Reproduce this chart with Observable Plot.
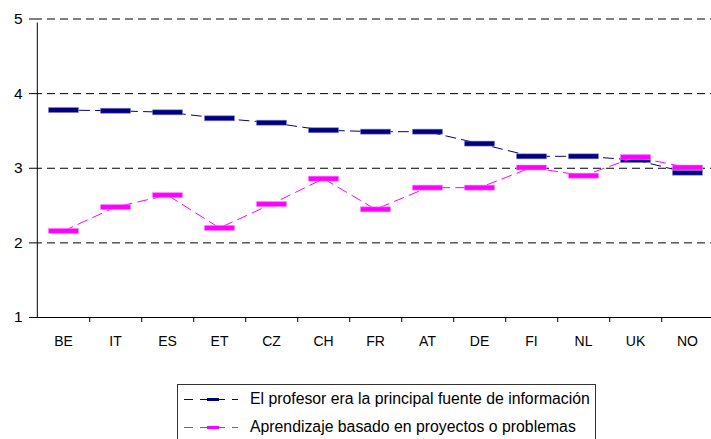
<!DOCTYPE html>
<html>
<head>
<meta charset="utf-8">
<script src="https://cdn.jsdelivr.net/npm/d3@7"></script>
<script src="https://cdn.jsdelivr.net/npm/@observablehq/plot@0.6"></script>
<style>
  html, body { margin: 0; padding: 0; background: #fff; }
  #wrap { position: relative; width: 711px; height: 439px; overflow: hidden; font-family: "Liberation Sans", Arial, sans-serif; }
  #legend { position: absolute; left: 177px; top: 384px; width: 419px; height: 70px; border: 1px solid #333; box-sizing: border-box; background: #fff; }
  .row { position: absolute; left: 0; height: 20px; display: flex; align-items: center; font-size: 15.8px; color: #000; white-space: nowrap; }
  .row svg { margin-left: 5px; margin-right: 11px; }
</style>
</head>
<body>
<div id="wrap">
  <div id="chart"></div>
  <div id="legend"></div>
</div>
<script>
const countries = ["BE", "IT", "ES", "ET", "CZ", "CH", "FR", "AT", "DE", "FI", "NL", "UK", "NO"];
const profesor = [3.78, 3.77, 3.75, 3.67, 3.61, 3.51, 3.49, 3.49, 3.33, 3.16, 3.16, 3.11, 2.94];
const proyectos = [2.16, 2.48, 2.64, 2.20, 2.52, 2.86, 2.45, 2.74, 2.74, 3.01, 2.90, 3.15, 3.01];
const seriesNames = ["El profesor era la principal fuente de información", "Aprendizaje basado en proyectos o problemas"];
const seriesColors = ["#000080", "#FF00FF"];
const yTicks = [1, 2, 3, 4, 5];
const gridTicks = [2, 3, 4, 5];

const rows = [];
countries.forEach((c, i) => {
  rows.push({country: c, value: profesor[i], series: seriesNames[0]});
});
countries.forEach((c, i) => {
  rows.push({country: c, value: proyectos[i], series: seriesNames[1]});
});

const xLeft = 34, xRight = 715;
const step = (xRight - xLeft) / countries.length;
const bar = { draw(ctx) { ctx.rect(-15, -2.5, 30, 5); } };

const chart = Plot.plot({
  width: 711,
  height: 360,
  marginLeft: xLeft,
  marginRight: 0,
  marginTop: 18,
  marginBottom: 43,
  style: { fontFamily: "'Liberation Sans', Arial, sans-serif", background: "transparent", fontSize: "14px" },
  x: { type: "point", domain: countries, range: [xLeft, xRight], padding: 0.5, label: null },
  y: { domain: [1, 5], range: [317, 18.5], label: null },
  marks: [
    Plot.ruleY(gridTicks, { stroke: "#000", strokeWidth: 1, strokeDasharray: "8,5" }),
    Plot.ruleY([1], { stroke: "#000", strokeWidth: 1 }),
    Plot.ruleX([countries[0]], { y1: 1, y2: 5, dx: -step / 2, insetBottom: -4, stroke: "#000" }),
    Plot.ruleX(countries, { y1: 1, y2: 1, dx: step / 2, insetBottom: -5, stroke: "#000" }),
    Plot.axisY(yTicks, { tickSize: 5, tickPadding: 7, fontSize: 15.5, tickFormat: d => String(d), label: null, stroke: "#000", color: "#000" }),
    Plot.axisX({ tickSize: 0, tickPadding: 19, fontSize: 14, label: null, color: "#000" }),
    Plot.lineY(rows.filter(d => d.series === seriesNames[0]), { x: "country", y: "value", stroke: seriesColors[0], strokeWidth: 1, strokeDasharray: "10,6" }),
    Plot.dot(rows.filter(d => d.series === seriesNames[0]), { x: "country", y: "value", symbol: bar, fill: seriesColors[0], stroke: "#8080c0", strokeWidth: 0.5 }),
    Plot.lineY(rows.filter(d => d.series === seriesNames[1]), { x: "country", y: "value", stroke: seriesColors[1], strokeWidth: 1, strokeDasharray: "10,6" }),
    Plot.dot(rows.filter(d => d.series === seriesNames[1]), { x: "country", y: "value", symbol: bar, fill: seriesColors[1], stroke: "#ff80ff", strokeWidth: 0.5 })
  ]
});
document.getElementById("chart").appendChild(chart);

const legend = document.getElementById("legend");
seriesNames.forEach((name, i) => {
  const row = document.createElement("div");
  row.className = "row";
  row.style.top = (i === 0 ? 4 : 32) + "px";
  row.innerHTML = `<svg width="56" height="10"><line x1="1" x2="55" y1="5.5" y2="5.5" stroke="${seriesColors[i]}" stroke-width="1" stroke-dasharray="9,7"/><rect x="24" y="4" width="12" height="3" fill="${seriesColors[i]}"/></svg><span>${name}</span>`;
  legend.appendChild(row);
});
</script>
</body>
</html>
